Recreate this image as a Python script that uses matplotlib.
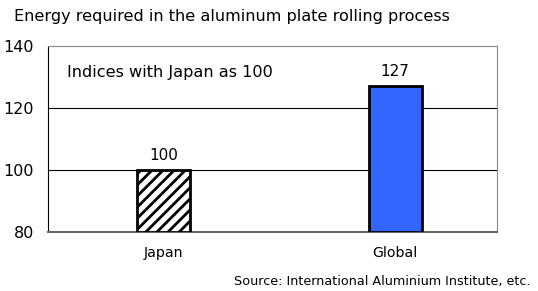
import matplotlib
matplotlib.use("Agg")
import matplotlib.pyplot as plt

categories = ["Japan", "Global"]
values = [100, 127]
value_labels = ["100", "127"]
yticks = [80, 100, 120, 140]

plt.rcParams['font.family'] = ['DejaVu Sans']
plt.rcParams['hatch.linewidth'] = 2.0

W, H = 538, 291
fig = plt.figure(figsize=(W/100, H/100), dpi=100)
ax = fig.add_axes([48/W, 1-232/H, (497-48)/W, (232-46)/H])

x = list(range(len(categories)))
bars = ax.bar(x, [v - 80 for v in values], bottom=80, width=0.23,
              color=["white", "#3366FF"], edgecolor="black", linewidth=2, zorder=3)
bars[0].set_hatch("///")

ax.set_xlim(-0.5, 1.44)
ax.set_ylim(80, 140)
ax.set_yticks(yticks)
ax.set_yticklabels([str(t) for t in yticks], fontsize=11.5)
ax.set_xticks(x)
ax.set_xticklabels(categories, fontsize=10.2)
ax.tick_params(axis='both', length=0)
ax.tick_params(axis='y', pad=10)
ax.tick_params(axis='x', pad=10)

for yv in [100, 120]:
    ax.axhline(yv, color="black", linewidth=0.8, zorder=1)

for s in ["top", "right"]:
    ax.spines[s].set_color("#888888")
    ax.spines[s].set_linewidth(0.8)
ax.spines["bottom"].set_color("#666666")
ax.spines["bottom"].set_linewidth(1.5)
ax.spines["left"].set_color("black")
ax.spines["left"].set_linewidth(0.8)

for xi, v, lab in zip(x, values, value_labels):
    ax.text(xi, v + 2.2, lab, ha="center", va="bottom", fontsize=11)

fig.text(67/W, 1-73/H, "Indices with Japan as 100", fontsize=11.6,
         ha="left", va="center")
fig.text(14/W, 1-17/H, "Energy required in the aluminum plate rolling process",
         fontsize=11.6, ha="left", va="center")
fig.text(531/W, 1-281/H, "Source: International Aluminium Institute, etc.",
         fontsize=9.2, ha="right", va="center")

fig.savefig("out.png", dpi=100)
